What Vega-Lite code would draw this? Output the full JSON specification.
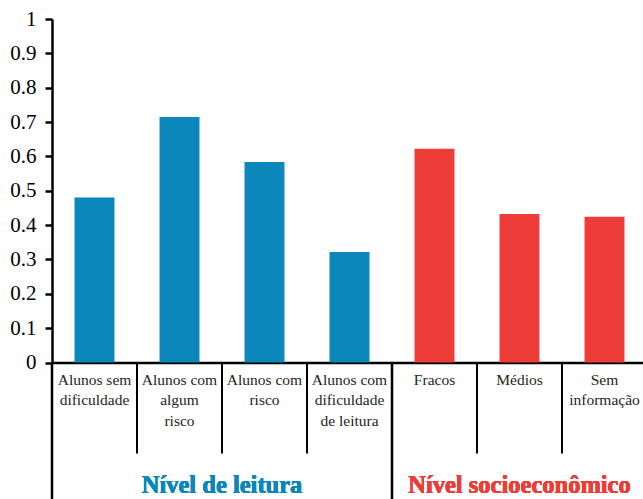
{
  "$schema": "https://vega.github.io/schema/vega-lite/v6.json",
  "autosize": {"type": "none"},
  "padding": {"left": 52, "top": 19, "right": 0, "bottom": 136},
  "width": 591,
  "height": 343.5,
  "background": "white",
  "config": {
    "view": {"stroke": null},
    "font": "Liberation Serif",
    "axisY": {
      "grid": false,
      "labelOverlap": false,
      "labelFlush": false,
      "domainColor": "#000000",
      "domainWidth": 2.5,
      "tickColor": "#000000",
      "tickWidth": 2.5,
      "tickSize": 7,
      "labelFont": "Liberation Serif",
      "labelFontSize": 21,
      "labelColor": "#000000",
      "labelPadding": 9,
      "title": null
    }
  },
  "data": {
    "values": [
      {"cat": "Alunos sem\ndificuldade", "value": 0.48, "grupo": "Nível de leitura"},
      {"cat": "Alunos com\nalgum\nrisco", "value": 0.715, "grupo": "Nível de leitura"},
      {"cat": "Alunos com\nrisco", "value": 0.584, "grupo": "Nível de leitura"},
      {"cat": "Alunos com\ndificuldade\nde leitura", "value": 0.322, "grupo": "Nível de leitura"},
      {"cat": "Fracos", "value": 0.622, "grupo": "Nível socioeconômico"},
      {"cat": "Médios", "value": 0.432, "grupo": "Nível socioeconômico"},
      {"cat": "Sem\ninformação", "value": 0.424, "grupo": "Nível socioeconômico"}
    ]
  },
  "encoding": {
    "x": {
      "field": "cat",
      "type": "nominal",
      "sort": null,
      "scale": {"range": [0, 595], "paddingInner": 0, "paddingOuter": 0},
      "axis": {"title": null, "labels": false, "ticks": false, "domain": true, "domainColor": "#000000", "domainWidth": 2.5, "grid": false}
    }
  },
  "layer": [
    {
      "mark": {"type": "bar", "width": {"band": 0.47}},
      "encoding": {
        "y": {
          "field": "value",
          "type": "quantitative",
          "scale": {"domain": [0, 1], "nice": false, "clamp": false},
          "axis": {"values": [0, 0.1, 0.2, 0.3, 0.4, 0.5, 0.6, 0.7, 0.8, 0.9, 1], "format": "~g", "title": null}
        },
        "color": {
          "field": "grupo",
          "type": "nominal",
          "scale": {"domain": ["Nível de leitura", "Nível socioeconômico"], "range": ["#0b87bb", "#ee3d39"]},
          "legend": null
        }
      }
    },
    {
      "transform": [{"filter": "datum.cat != 'Alunos sem\\ndificuldade' && datum.cat != 'Fracos'"}],
      "mark": {"type": "rule", "color": "#000000", "strokeWidth": 2},
      "encoding": {
        "x": {"field": "cat", "type": "nominal", "sort": null, "bandPosition": 0},
        "y": {"datum": 0, "type": "quantitative", "axis": {"values": [0, 0.1, 0.2, 0.3, 0.4, 0.5, 0.6, 0.7, 0.8, 0.9, 1], "format": "~g", "title": null}},
        "y2": {"datum": -0.265}
      }
    },
    {
      "transform": [{"filter": "datum.cat == 'Alunos sem\\ndificuldade' || datum.cat == 'Fracos'"}],
      "mark": {"type": "rule", "color": "#000000", "strokeWidth": 2.5},
      "encoding": {
        "x": {"field": "cat", "type": "nominal", "sort": null, "bandPosition": 0},
        "y": {"datum": 0, "type": "quantitative", "axis": {"values": [0, 0.1, 0.2, 0.3, 0.4, 0.5, 0.6, 0.7, 0.8, 0.9, 1], "format": "~g", "title": null}},
        "y2": {"datum": -0.42}
      }
    },
    {
      "mark": {"type": "text", "baseline": "top", "align": "center", "lineBreak": "\n", "lineHeight": 20.5, "dy": 10, "fontSize": 15.5, "font": "Liberation Serif", "color": "#231f20"},
      "encoding": {
        "y": {"datum": 0, "type": "quantitative", "axis": {"values": [0, 0.1, 0.2, 0.3, 0.4, 0.5, 0.6, 0.7, 0.8, 0.9, 1], "format": "~g", "title": null}},
        "text": {"field": "cat", "type": "nominal"}
      }
    },
    {
      "mark": {"type": "text", "baseline": "middle", "align": "center", "fontSize": 24.5, "fontWeight": "bold", "font": "Liberation Serif", "color": "#0b87bb"},
      "encoding": {
        "x": {"datum": "Alunos com\nalgum\nrisco", "bandPosition": 1},
        "y": {"datum": -0.36, "type": "quantitative", "axis": {"values": [0, 0.1, 0.2, 0.3, 0.4, 0.5, 0.6, 0.7, 0.8, 0.9, 1], "format": "~g", "title": null}},
        "text": {"value": "Nível de leitura"}
      }
    },
    {
      "mark": {"type": "text", "baseline": "middle", "align": "center", "fontSize": 24.5, "fontWeight": "bold", "font": "Liberation Serif", "color": "#ee3d39"},
      "encoding": {
        "x": {"datum": "Médios", "bandPosition": 0.5},
        "y": {"datum": -0.36, "type": "quantitative", "axis": {"values": [0, 0.1, 0.2, 0.3, 0.4, 0.5, 0.6, 0.7, 0.8, 0.9, 1], "format": "~g", "title": null}},
        "text": {"value": "Nível socioeconômico"}
      }
    }
  ]
}
